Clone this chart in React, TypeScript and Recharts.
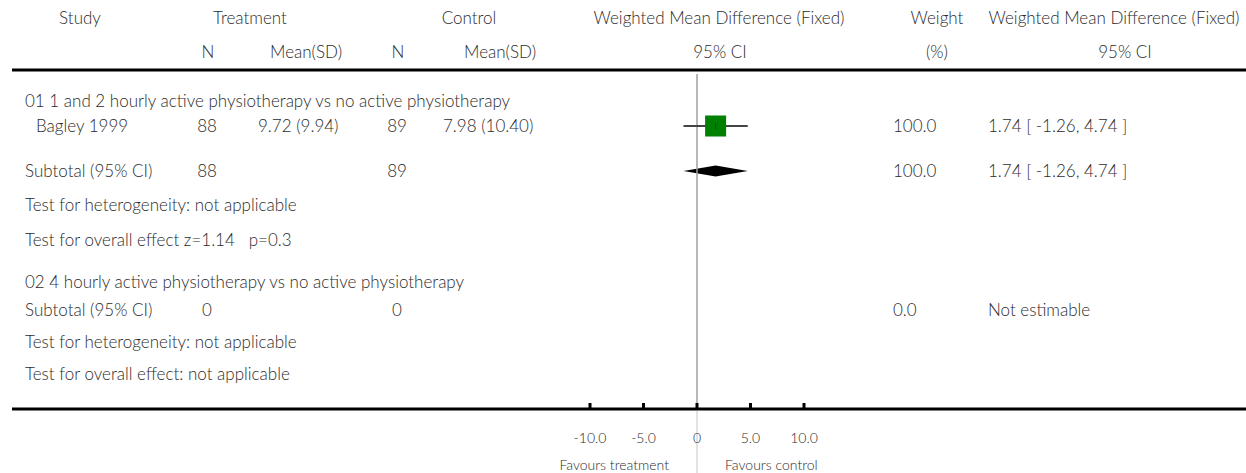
import React from 'react';
import { ComposedChart, XAxis, YAxis, Scatter, ReferenceLine, ReferenceArea } from 'recharts';

// Study level data
const studyNames = ['Bagley 1999'];
const treatN = [88];
const treatMean = [9.72];
const treatSD = [9.94];
const controlN = [89];
const controlMean = [7.98];
const controlSD = [10.4];
const studyWmd = [1.74];
const studyLow = [-1.26];
const studyHigh = [4.74];
const studyWeight = [100.0];

// Subgroup headers and pooled results
const groupTitles = [
  '01 1 and 2 hourly active physiotherapy vs no active physiotherapy',
  '02 4 hourly active physiotherapy vs no active physiotherapy',
];
const subtotalTreatN = [88, 0];
const subtotalControlN = [89, 0];
const subtotalWeight = [100.0, 0.0];
const subtotalWmd = [1.74, null];
const subtotalLow = [-1.26, null];
const subtotalHigh = [4.74, null];
const heterogeneityText = ['Test for heterogeneity: not applicable', 'Test for heterogeneity: not applicable'];
const overallText = ['Test for overall effect z=1.14\u00a0\u00a0\u00a0p=0.3', 'Test for overall effect: not applicable'];

const xTicks = [-10, -5, 0, 5, 10];

// layout
const W = 1246;
const H = 473;
const AXIS_Y = 409;
const PLOT_LEFT = 12;
const ZERO_X = 697;
const PX_PER_UNIT = 10.7;
const xDomain = [(PLOT_LEFT - ZERO_X) / PX_PER_UNIT, (W - ZERO_X) / PX_PER_UNIT];

const rowY = {
  head1: 18,
  head2: 52,
  rule: 70,
  group: [101, 282],
  study: [126],
  subtotal: [171, 310],
  hetero: [205, 342],
  overall: [240, 374],
};

const col = {
  label: 25,
  study: 36,
  treatN: 207,
  treatMean: 258,
  controlN: 397,
  controlMean: 443,
  weight: 893,
  result: 988,
};

const FONT = 'Lato, "Open Sans", sans-serif';
const font = { fontFamily: FONT, fontSize: 17, fontWeight: 300, color: '#2b2b2b' };
const MAX_SQUARE = 21;

const fmtCI = (e: number, l: number, h: number) => `${e.toFixed(2)} [ ${l.toFixed(2)}, ${h.toFixed(2)} ]`;

function Txt({ x, y, children, align = 'left', size }: { x: number; y: number; children: React.ReactNode; align?: string; size?: number }) {
  const w = 400;
  const left = align === 'center' ? x - w / 2 : align === 'right' ? x - w : x;
  return (
    <div
      style={{
        position: 'absolute',
        left,
        top: y - 10,
        width: align === 'left' ? undefined : w,
        textAlign: align as any,
        lineHeight: '20px',
        whiteSpace: 'nowrap',
        ...font,
        ...(size ? { fontSize: size } : {}),
      }}
    >
      {children}
    </div>
  );
}

const tickFmt = (v: number) => (v === 0 ? '0' : v.toFixed(1));

const AxisTick = ({ x, y, payload }: any) => (
  <text x={x} y={y} textAnchor="middle" dominantBaseline="central" fontFamily={FONT} fontWeight={300} fontSize={14} fill="#2b2b2b">
    {tickFmt(payload.value)}
  </text>
);

const SquareShape = ({ cx, cy, payload }: any) => {
  const s = MAX_SQUARE * Math.sqrt(payload.weight / 100);
  return (
    <g>
      <rect x={cx - s / 2} y={cy - s / 2} width={s} height={s} fill="#008000" />
      <line x1={cx} x2={cx} y1={cy - 3} y2={cy + 3} stroke="#333" strokeWidth={1} />
    </g>
  );
};

const diamondShape = (est: number, low: number, high: number) => (props: any) => {
  const { x, y, width, height } = props;
  const cx = x + (width * (est - low)) / (high - low);
  const pts = `${x},${y + height / 2} ${cx},${y} ${x + width},${y + height / 2} ${cx},${y + height}`;
  return <polygon points={pts} fill="#000" />;
};

export default function App() {
  const studyData = studyNames.map((n, i) => ({ name: n, x: studyWmd[i], y: rowY.study[i], weight: studyWeight[i] }));

  return (
    <div style={{ position: 'absolute', left: 0, top: 0, width: W, height: H, background: '#fff', overflow: 'hidden' }}>
      <ComposedChart width={W} height={H} margin={{ top: 0, right: 0, bottom: 0, left: PLOT_LEFT }}>
        <XAxis
          type="number"
          dataKey="x"
          domain={xDomain}
          allowDataOverflow
          ticks={xTicks}
          interval={0}
          height={H - AXIS_Y}
          axisLine={{ stroke: '#000', strokeWidth: 3 }}
          tickLine={{ stroke: '#000', strokeWidth: 3 }}
          tickSize={-6}
          tickMargin={34}
          tick={<AxisTick />}
        />
        <YAxis type="number" dataKey="y" domain={[0, AXIS_Y]} allowDataOverflow reversed hide />
        <ReferenceLine y={rowY.rule} stroke="#000" strokeWidth={3} />
        <ReferenceLine
          segment={[{ x: 0, y: rowY.rule + 4 }, { x: 0, y: AXIS_Y }]}
          stroke="#a0a0a0"
          strokeWidth={1.5}
        />
        <ReferenceLine
          segment={[{ x: 0, y: AXIS_Y + 2 }, { x: 0, y: H }]}
          stroke="#d8d8d8"
          strokeWidth={1.5}
          ifOverflow="visible"
        />
        <Scatter data={studyData} shape={<SquareShape />} isAnimationActive={false} />
        {studyNames.map((n, i) => (
          <ReferenceLine
            key={n}
            segment={[{ x: studyLow[i], y: rowY.study[i] }, { x: studyHigh[i], y: rowY.study[i] }]}
            stroke="#444"
            strokeWidth={2}
          />
        ))}
        {subtotalWmd.map((e, i) =>
          e == null ? null : (
            <ReferenceArea
              key={i}
              x1={subtotalLow[i] as number}
              x2={subtotalHigh[i] as number}
              y1={rowY.subtotal[i] - 5.5}
              y2={rowY.subtotal[i] + 5.5}
              shape={diamondShape(e, subtotalLow[i] as number, subtotalHigh[i] as number)}
            />
          )
        )}
      </ComposedChart>

      {/* header */}
      <Txt x={80} y={rowY.head1} align="center">Study</Txt>
      <Txt x={250} y={rowY.head1} align="center">Treatment</Txt>
      <Txt x={469} y={rowY.head1} align="center">Control</Txt>
      <Txt x={719} y={rowY.head1} align="center">Weighted Mean Difference (Fixed)</Txt>
      <Txt x={937} y={rowY.head1} align="center">Weight</Txt>
      <Txt x={1114} y={rowY.head1} align="center">Weighted Mean Difference (Fixed)</Txt>
      <Txt x={208} y={rowY.head2} align="center">N</Txt>
      <Txt x={306} y={rowY.head2} align="center">Mean(SD)</Txt>
      <Txt x={398} y={rowY.head2} align="center">N</Txt>
      <Txt x={500} y={rowY.head2} align="center">Mean(SD)</Txt>
      <Txt x={720} y={rowY.head2} align="center">95% CI</Txt>
      <Txt x={937} y={rowY.head2} align="center">(%)</Txt>
      <Txt x={1125} y={rowY.head2} align="center">95% CI</Txt>

      {groupTitles.map((g, gi) => (
        <React.Fragment key={g}>
          <Txt x={col.label} y={rowY.group[gi]}>{g}</Txt>
          {gi === 0 &&
            studyNames.map((n, i) => (
              <React.Fragment key={n}>
                <Txt x={col.study} y={rowY.study[i]}>{n}</Txt>
                <Txt x={col.treatN} y={rowY.study[i]} align="center">{treatN[i]}</Txt>
                <Txt x={col.treatMean} y={rowY.study[i]}>{`${treatMean[i].toFixed(2)} (${treatSD[i].toFixed(2)})`}</Txt>
                <Txt x={col.controlN} y={rowY.study[i]} align="center">{controlN[i]}</Txt>
                <Txt x={col.controlMean} y={rowY.study[i]}>{`${controlMean[i].toFixed(2)} (${controlSD[i].toFixed(2)})`}</Txt>
                <Txt x={col.weight} y={rowY.study[i]}>{studyWeight[i].toFixed(1)}</Txt>
                <Txt x={col.result} y={rowY.study[i]}>{fmtCI(studyWmd[i], studyLow[i], studyHigh[i])}</Txt>
              </React.Fragment>
            ))}
          <Txt x={col.label} y={rowY.subtotal[gi]}>Subtotal (95% CI)</Txt>
          <Txt x={col.treatN} y={rowY.subtotal[gi]} align="center">{subtotalTreatN[gi]}</Txt>
          <Txt x={col.controlN} y={rowY.subtotal[gi]} align="center">{subtotalControlN[gi]}</Txt>
          <Txt x={col.weight} y={rowY.subtotal[gi]}>{subtotalWeight[gi].toFixed(1)}</Txt>
          <Txt x={col.result} y={rowY.subtotal[gi]}>
            {subtotalWmd[gi] == null
              ? 'Not estimable'
              : fmtCI(subtotalWmd[gi] as number, subtotalLow[gi] as number, subtotalHigh[gi] as number)}
          </Txt>
          <Txt x={col.label} y={rowY.hetero[gi]}>{heterogeneityText[gi]}</Txt>
          <Txt x={col.label} y={rowY.overall[gi]}>{overallText[gi]}</Txt>
        </React.Fragment>
      ))}

      <Txt x={669} y={465} align="right" size={14}>Favours treatment</Txt>
      <Txt x={725} y={465} size={14}>Favours control</Txt>
    </div>
  );
}
